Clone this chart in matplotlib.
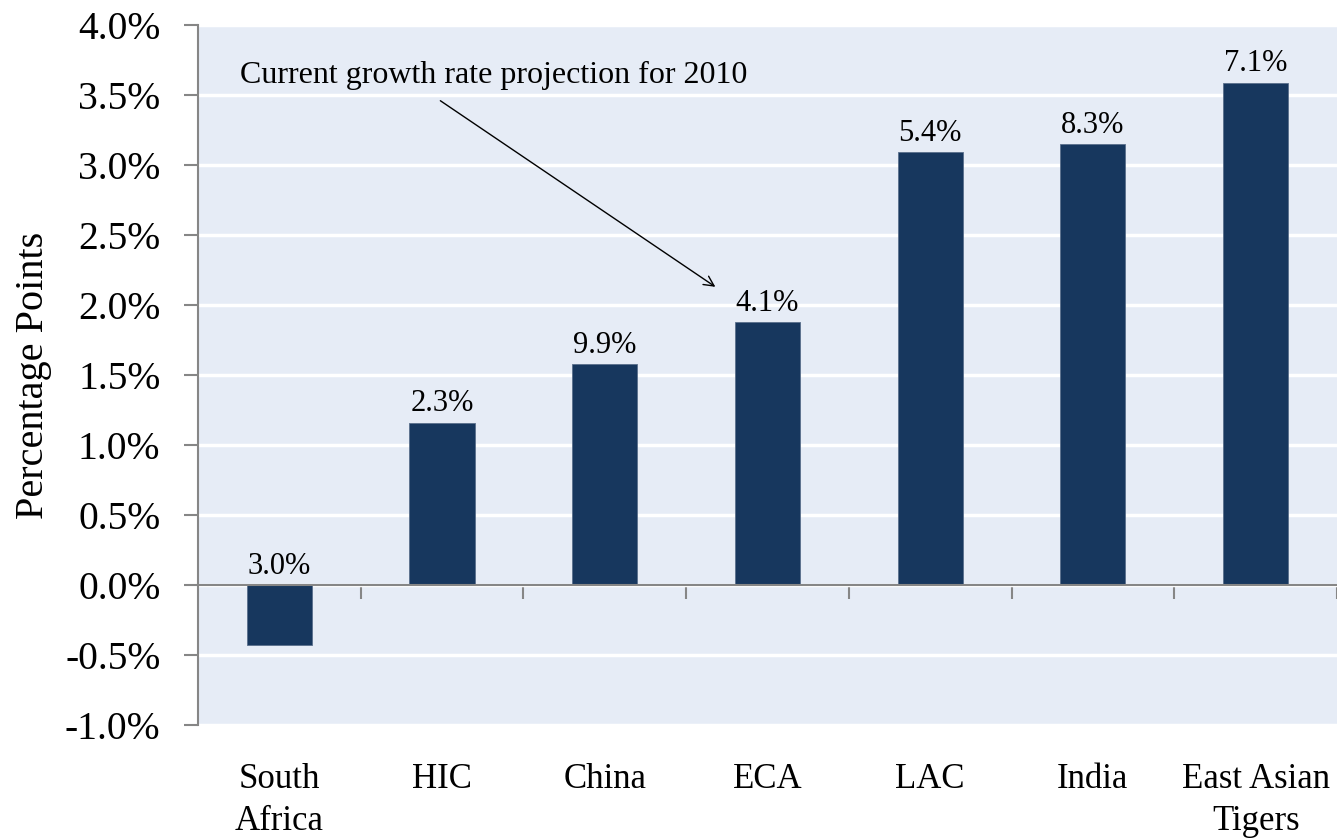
import matplotlib.pyplot as plt
from matplotlib.ticker import FuncFormatter, FixedLocator
import matplotlib.transforms as mtransforms

regions = ["South\nAfrica", "HIC", "China", "ECA", "LAC", "India", "East Asian\nTigers"]
impact = [-0.43, 1.16, 1.58, 1.88, 3.09, 3.15, 3.59]
growth_labels = ["3.0%", "2.3%", "9.9%", "4.1%", "5.4%", "8.3%", "7.1%"]

plt.rcParams["font.family"] = ["Liberation Serif", "DejaVu Serif"]

fig = plt.figure(figsize=(13.37, 8.38), dpi=100)
ax = fig.add_axes([0.148, 0.135, 0.852, 0.835])
ax.set_facecolor("#E6ECF6")

x = list(range(len(regions)))
ax.bar(x, impact, width=0.4, color="#17375E", edgecolor="#5a6f8c",
       linewidth=0.6, zorder=3)

for xi, v, lab in zip(x, impact, growth_labels):
    ax.text(xi, max(v, 0) + 0.03, lab, ha="center", va="bottom",
            fontsize=22, zorder=4)

ax.set_xlim(-0.5, 6.5)
ax.set_ylim(-1.0, 4.0)
ax.yaxis.set_major_locator(FixedLocator([i * 0.5 for i in range(-2, 9)]))
ax.yaxis.set_major_formatter(FuncFormatter(lambda v, p: f"{v:.1f}%"))
ax.grid(axis="y", color="white", linewidth=2.5, zorder=1)
ax.tick_params(axis="y", labelsize=28.5, length=10, color="#868686",
               width=1.5, pad=17)
ax.set_ylabel("Percentage Points", fontsize=29)
ax.yaxis.set_label_coords(-0.128, 0.5)

# category axis sits on the zero line, ticks between categories
for side in ("top", "right"):
    ax.spines[side].set_visible(False)
ax.spines["left"].set_color("#868686")
ax.spines["left"].set_linewidth(1.5)
ax.spines["bottom"].set_position(("data", 0))
ax.spines["bottom"].set_color("#868686")
ax.spines["bottom"].set_linewidth(1.5)
ax.spines["bottom"].set_zorder(5)
ax.set_xticks([i + 0.5 for i in range(len(regions))])
ax.set_xticklabels([])
ax.tick_params(axis="x", direction="out", length=10, color="#868686", width=1.5)

trans = mtransforms.blended_transform_factory(ax.transData, ax.transAxes)
for xi, name in zip(x, regions):
    ax.text(xi, -0.055, name, transform=trans, ha="center", va="top",
            fontsize=25, linespacing=1.35)

ax.text(-0.24, 3.64, "Current growth rate projection for 2010",
        fontsize=23, va="center", ha="left", zorder=4)
ax.annotate("", xy=(2.68, 2.13), xytext=(0.99, 3.46),
            arrowprops=dict(arrowstyle="->", color="black", lw=1,
                            shrinkA=0, shrinkB=0, mutation_scale=18))

fig.savefig("out.png", dpi=100)
